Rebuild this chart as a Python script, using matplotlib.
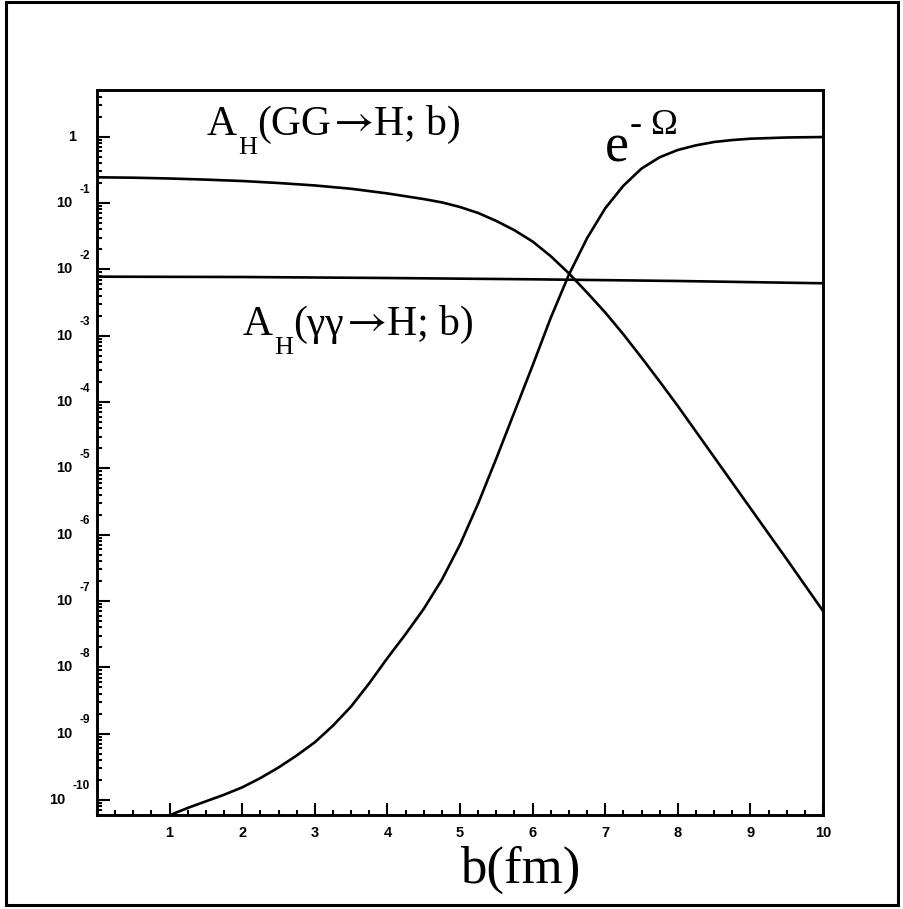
import matplotlib
matplotlib.use("Agg")
import matplotlib.pyplot as plt
from matplotlib.ticker import FixedLocator, MultipleLocator, LogLocator, NullFormatter
from matplotlib.transforms import offset_copy
from matplotlib.patches import Rectangle

# values
b_gg = [0, 0.5, 1, 1.5, 2, 2.5, 3, 3.5, 4, 4.5, 4.75, 5, 5.25, 5.5, 5.75, 6,
        6.25, 6.5, 6.75, 7, 7.25, 7.5, 7.75, 8, 8.5, 9, 9.5, 10]
a_gg = [0.2443, 0.2410, 0.2344, 0.2254, 0.2148, 0.2004, 0.1841, 0.1641, 0.1396,
        0.1148, 0.1023, 0.0871, 0.0708, 0.0537, 0.0389, 0.0263, 0.0158, 8.71e-3,
        4.47e-3, 2.24e-3, 1.05e-3, 4.68e-4, 2.04e-4, 8.71e-5, 1.48e-5, 2.51e-6,
        4.27e-7, 7.08e-8]

b_yy = [0, 2, 4, 6, 8, 10]
a_yy = [7.76e-3, 7.67e-3, 7.41e-3, 7.08e-3, 6.68e-3, 6.17e-3]

b_om = [0.8, 1.0, 1.25, 1.5, 1.75, 2.0, 2.25, 2.5, 2.75, 3.0, 3.25, 3.5, 3.75,
        4.0, 4.25, 4.5, 4.75, 5.0, 5.25, 5.5, 5.75, 6.0, 6.25, 6.5, 6.75, 7.0,
        7.25, 7.5, 7.75, 8.0, 8.25, 8.5, 8.75, 9.0, 9.5, 10.0]
e_om = [3.98e-11, 5.89e-11, 7.59e-11, 9.55e-11, 1.20e-10, 1.55e-10, 2.14e-10,
        3.09e-10, 4.68e-10, 7.41e-10, 1.32e-9, 2.57e-9, 5.75e-9, 1.38e-8,
        3.16e-8, 7.59e-8, 2.09e-7, 7.08e-7, 2.95e-6, 1.41e-5, 7.08e-5, 3.55e-4,
        1.86e-3, 8.32e-3, 0.0295, 0.0832, 0.182, 0.331, 0.490, 0.631, 0.741,
        0.832, 0.891, 0.933, 0.973, 0.989]

x_ticks = [1, 2, 3, 4, 5, 6, 7, 8, 9, 10]
y_exps = [-1, -2, -3, -4, -5, -6, -7, -8, -9, -10]

serif = ["Liberation Serif", "DejaVu Serif"]
plt.rcParams["font.family"] = "Liberation Sans"
plt.rcParams["mathtext.fontset"] = "stix"

fig = plt.figure(figsize=(9.04, 9.09), dpi=100)
ax = fig.add_axes([97 / 904, 1 - 815 / 909, 726 / 904, 725 / 909])

for xs, ys in [(b_gg, a_gg), (b_yy, a_yy), (b_om, e_om)]:
    ax.plot(xs, ys, color="black", lw=1.9, solid_joinstyle="round")

ax.set_yscale("log")
ax.set_xlim(0, 10)
ax.set_ylim(5.94e-11, 5.06)

for s in ax.spines.values():
    s.set_linewidth(2.1)

ax.xaxis.set_major_locator(FixedLocator(x_ticks))
ax.xaxis.set_minor_locator(MultipleLocator(0.25))
ax.set_xticklabels([str(t) for t in x_ticks], fontsize=10.5, fontweight="bold")

ax.yaxis.set_major_locator(LogLocator(base=10, numticks=30))
ax.yaxis.set_minor_locator(LogLocator(base=10, subs=range(2, 10), numticks=30))
ax.yaxis.set_major_formatter(NullFormatter())
ax.yaxis.set_minor_formatter(NullFormatter())

ax.tick_params(which="both", direction="in", top=False, right=False, width=1.5)
ax.tick_params(which="major", length=9)
ax.tick_params(which="minor", length=3.5)
ax.tick_params(axis="x", which="major", pad=8)

# y tick labels in the "10 ^ -n" style
ytr = ax.get_yaxis_transform()
ax.text(0, 1, "1", transform=offset_copy(ytr, fig, x=-21, y=0, units="dots"),
        ha="right", va="center", fontsize=10.5, fontweight="bold")
for k in y_exps:
    ax.text(0, 10.0 ** k, str(k), transform=offset_copy(ytr, fig, x=-7, y=13.5, units="dots"),
            ha="right", va="center", fontsize=8.5, fontweight="bold")
    shift = -25 if k > -10 else -32
    ax.text(0, 10.0 ** k, "10", transform=offset_copy(ytr, fig, x=shift, y=0, units="dots"),
            ha="right", va="center", fontsize=10.5, fontweight="bold")


def curve_label(x, y, left, right, size=30):
    t = ax.text(x, y, "A", family=serif, fontsize=size, ha="left", va="baseline")
    s = ax.annotate("H", xy=(1, 0), xycoords=t, xytext=(1, 5), textcoords="offset points",
                    family=serif, fontsize=size * 0.63, ha="left", va="top")
    p = ax.annotate(left, xy=(1, 0), xycoords=(s, t), xytext=(0, 0), textcoords="offset points",
                    family=serif, fontsize=size, ha="left", va="bottom")
    a = ax.annotate(r"$\rightarrow$", xy=(1, 0.5), xycoords=(p, t), xytext=(-3, 2.5),
                    textcoords="offset points", fontsize=size * 1.05, ha="left", va="center")
    ax.annotate(right, xy=(1, 0), xycoords=(a, t), xytext=(1, 0), textcoords="offset points",
                family=serif, fontsize=size, ha="left", va="bottom")


curve_label(1.515, 1.06, "(GG", "H; b)")
curve_label(2.01, 1.02e-3, "(\u03b3\u03b3", "H; b)")

ax.text(7.0, 0.417, "e", family=serif, fontsize=39, ha="left", va="baseline")
ax.text(7.34, 1.1, "- \u03a9", family=serif, fontsize=26, ha="left", va="baseline")

fig.text(460 / 904, 1 - 883 / 909, "b(fm)", family=serif, fontsize=38,
         ha="left", va="baseline")

# outer frame
fig.patches.append(Rectangle((6 / 904, 1 - 905 / 909), 892 / 904, 903 / 909,
                             transform=fig.transFigure, fill=False, lw=2.2, ec="black"))

fig.savefig("out.png", dpi=100)
